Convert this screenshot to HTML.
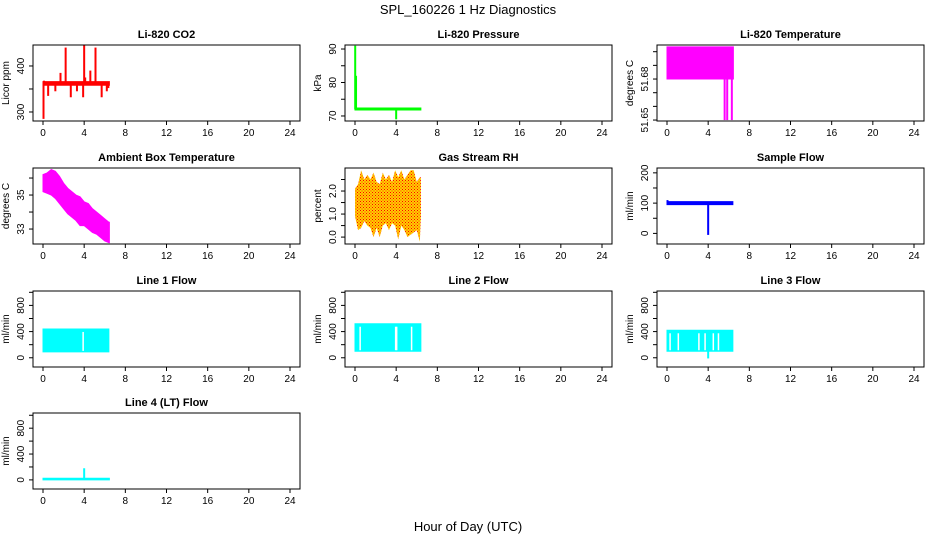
<!DOCTYPE html>
<html><head><meta charset="utf-8"><style>
body{margin:0;background:#fff;}
svg{display:block;font-family:"Liberation Sans",Arial,sans-serif;}
</style></head><body>
<svg id="c" width="936" height="540" viewBox="0 0 936 540">
<defs><pattern id="rh" width="3" height="3" patternUnits="userSpaceOnUse"><rect width="3" height="3" fill="#ffd000"/><rect width="1" height="1" fill="#ff0000"/><rect x="1.5" y="1.5" width="1" height="1" fill="#ff2000"/></pattern></defs>
<text x="468" y="14" text-anchor="middle" font-size="13">SPL_160226  1 Hz Diagnostics</text>
<text x="468" y="531" text-anchor="middle" font-size="13">Hour of Day (UTC)</text>
</svg>
<script>
// ---- data arrays ----
const xTicks = [0,4,8,12,16,20,24];
const panelTitles = ["Li-820 CO2","Li-820 Pressure","Li-820 Temperature","Ambient Box Temperature","Gas Stream RH","Sample Flow","Line 1 Flow","Line 2 Flow","Line 3 Flow","Line 4 (LT) Flow"];
const yLabels = ["Licor ppm","kPa","degrees C","degrees C","percent","ml/min","ml/min","ml/min","ml/min","ml/min"];
const yDomains = [[280.4,445.6],[68.5,91.2],[51.6493,51.7049],[32.12,36.59],[-0.3,3.0],[-35,216],[-141,1020],[-141,1020],[-141,1020],[-141,1035]];
const yTickVals = [[300,350,400],[70,75,80,85,90],[51.65,51.66,51.67,51.68,51.69,51.70],[33,34,35,36],[0,0.5,1,1.5,2,2.5],[0,50,100,150,200],[0,200,400,600,800,1000],[0,200,400,600,800,1000],[0,200,400,600,800,1000],[0,200,400,600,800,1000]];
const yTickLabels = [["300","","400"],["70","","80","","90"],["51.65","","","51.68","",""],["33","","35",""],["0.0","","1.0","","2.0",""],["0","","100","","200"],["0","","400","","800",""],["0","","400","","800",""],["0","","400","","800",""],["0","","400","","800",""]];
// band series: times, low, high
const co2T=[0,6.45], co2Lo=[358,358], co2Hi=[366,366];
const co2SpikeT=[0.05,0.1,0.5,1.2,1.7,2.2,2.7,3.3,3.9,4.0,4.1,4.6,5.1,5.7,6.2,6.35];
const co2SpikeV=[285,368,335,345,385,440,332,345,332,445,375,390,440,332,345,352];
const presT=[0,6.4], presLo=[71.8,71.8], presHi=[72.4,72.4];
const presSpikeT=[0.02,0.1,4.0]; const presSpikeV=[91,82,69];
const ltT=[0,6.45], ltLo=[51.68,51.68], ltHi=[51.7035,51.7035];
const ltSpikeT=[5.6,5.85,6.3]; const ltSpikeV=[51.65,51.65,51.65];
const ambT=[0,0.4,0.8,1.2,1.6,2.0,2.4,2.8,3.2,3.6,4.0,4.4,4.8,5.2,5.6,6.0,6.4,6.45];
const ambHi=[36.2,36.3,36.5,36.4,36.1,35.7,35.4,35.2,35.0,34.9,34.6,34.5,34.2,34.0,33.8,33.6,33.4,33.4];
const ambLo=[35.2,35.1,35.0,34.8,34.5,34.2,33.9,33.7,33.5,33.2,33.2,33.0,32.8,32.7,32.5,32.3,32.2,32.2];
const rhT=[0,0.3,0.6,0.9,1.2,1.5,1.8,2.1,2.4,2.7,3.0,3.3,3.6,3.9,4.2,4.5,4.8,5.1,5.4,5.7,6.0,6.3,6.4];
const rhHi=[2.1,2.3,2.9,2.5,2.7,2.5,2.8,2.4,2.3,2.8,2.5,2.7,2.4,2.9,2.6,2.9,2.5,2.7,2.9,2.9,2.4,2.6,2.6];
const rhLo=[0.9,0.3,0.4,0.7,0.5,0.4,0.0,0.4,0.0,0.5,0.6,0.3,0.6,0.5,-0.1,0.5,0.3,0.0,0.1,0.2,0.3,-0.2,0.9];
const sfT=[0,6.4], sfLo=[95,95], sfHi=[105,105];
const sfSpikeT=[4.0,0.05]; const sfSpikeV=[-5,110];
const l1T=[0,6.4], l1Lo=[90,90], l1Hi=[440,440]; const l1GapT=[3.9];
const l2T=[0,6.4], l2Lo=[100,100], l2Hi=[520,520]; const l2GapT=[0.5,3.95,4.05,5.5];
const l3T=[0,6.4], l3Lo=[100,100], l3Hi=[420,420]; const l3GapT=[0.3,1.1,3.1,3.7,4.5,5.0];
const l3SpikeT=[4.0]; const l3SpikeV=[-10];
const l4T=[0,6.45], l4Lo=[0,0], l4Hi=[25,25];
const l4SpikeT=[4.0]; const l4SpikeV=[180];

const cols=[33,345,657], rows=[45,168,291,413], W=267, H=76;
const svg=document.getElementById('c'), NS='http://www.w3.org/2000/svg';
function el(t,a,p){const e=document.createElementNS(NS,t);for(const k in a)e.setAttribute(k,a[k]);(p||svg).appendChild(e);return e;}
const panels=[];
panelTitles.forEach((title,i)=>{
  const x0=cols[i%3], y0=rows[Math.floor(i/3)], dom=yDomains[i];
  const xs=h=>x0+10+h*(W-20)/24;
  const ys=v=>y0+H-(v-dom[0])/(dom[1]-dom[0])*H;
  const g=el('g',{});
  
  
  const t=el('text',{x:x0+W/2,y:y0-7,'text-anchor':'middle','font-size':11,'font-weight':'bold'},g);t.textContent=title;
  
  
  const yl=el('text',{transform:`translate(${x0-24},${y0+H/2}) rotate(-90)`,'text-anchor':'middle','font-size':10},g);yl.textContent=yLabels[i];
  
  
  xTicks.forEach(h=>{
    el('line',{x1:xs(h),x2:xs(h),y1:y0+H,y2:y0+H+4,stroke:'#000'},g);
    const tx=el('text',{x:xs(h),y:y0+H+15,'text-anchor':'middle','font-size':10},g);tx.textContent=h;
    
    
  });
  yTickVals[i].forEach((v,k)=>{
    const yy=ys(v); if(yy<y0-0.5||yy>y0+H+0.5)return;
    el('line',{x1:x0-4,x2:x0,y1:yy,y2:yy,stroke:'#000'},g);
    const lab=yTickLabels[i][k];
    if(lab){const ty=el('text',{transform:`translate(${x0-9},${yy}) rotate(-90)`,'text-anchor':'middle','font-size':10},g);ty.textContent=lab;
      
      }
  });
  const marks=el('g',{},g);
  el('rect',{x:x0,y:y0,width:W,height:H,fill:'none',stroke:'#000'},g);
  panels.push({xs,ys,marks});
});
function band(p,t,lo,hi,fill,name){const P=panels[p];
  const pts=[];
  t.forEach((h,i)=>pts.push(P.xs(h)+','+P.ys(hi[i])));
  for(let i=t.length-1;i>=0;i--)pts.push(P.xs(t[i])+','+P.ys(lo[i]));
  const r=el('polygon',{points:pts.join(' '),fill:fill,stroke:fill.startsWith('url')?'none':fill,'stroke-width':1},P.marks);
  
  }
function spikes(p,t,v,base,color,name,w){const P=panels[p];
  t.forEach((h,i)=>{const l=el('line',{x1:P.xs(h),x2:P.xs(h),y1:P.ys(base),y2:P.ys(v[i]),stroke:color,'stroke-width':w||2},P.marks);
    
    });}
function gaps(p,t,lo,hi,name){const P=panels[p];
  t.forEach(h=>{const l=el('line',{x1:P.xs(h),x2:P.xs(h),y1:P.ys(hi)+3,y2:P.ys(lo)-1,stroke:'#fff','stroke-width':1.5},P.marks);
    
    });}
band(0,co2T,co2Lo,co2Hi,'#ff0000','co2-series'); spikes(0,co2SpikeT,co2SpikeV,362,'#ff0000','co2-spike');
band(1,presT,presLo,presHi,'#00ff00','pressure-series'); spikes(1,presSpikeT,presSpikeV,72,'#00ff00','pressure-spike');
band(2,ltT,ltLo,ltHi,'#ff00ff','li820-temp-series'); spikes(2,ltSpikeT,ltSpikeV,51.68,'#ff00ff','li820-temp-spike');
band(3,ambT,ambLo,ambHi,'#ff00ff','ambient-temp-series');
band(4,rhT,rhLo,rhHi,'url(#rh)','rh-series');
band(5,sfT,sfLo,sfHi,'#0000ff','sample-flow-series'); spikes(5,sfSpikeT,sfSpikeV,100,'#0000ff','sample-flow-spike');
band(6,l1T,l1Lo,l1Hi,'#00ffff','line1-flow-series'); gaps(6,l1GapT,90,440,'line1-gap');
band(7,l2T,l2Lo,l2Hi,'#00ffff','line2-flow-series'); gaps(7,l2GapT,100,520,'line2-gap');
band(8,l3T,l3Lo,l3Hi,'#00ffff','line3-flow-series'); gaps(8,l3GapT,100,420,'line3-gap'); spikes(8,l3SpikeT,l3SpikeV,100,'#00ffff','line3-spike');
band(9,l4T,l4Lo,l4Hi,'#00ffff','line4-flow-series'); spikes(9,l4SpikeT,l4SpikeV,10,'#00ffff','line4-spike');
</script>
</body></html>
